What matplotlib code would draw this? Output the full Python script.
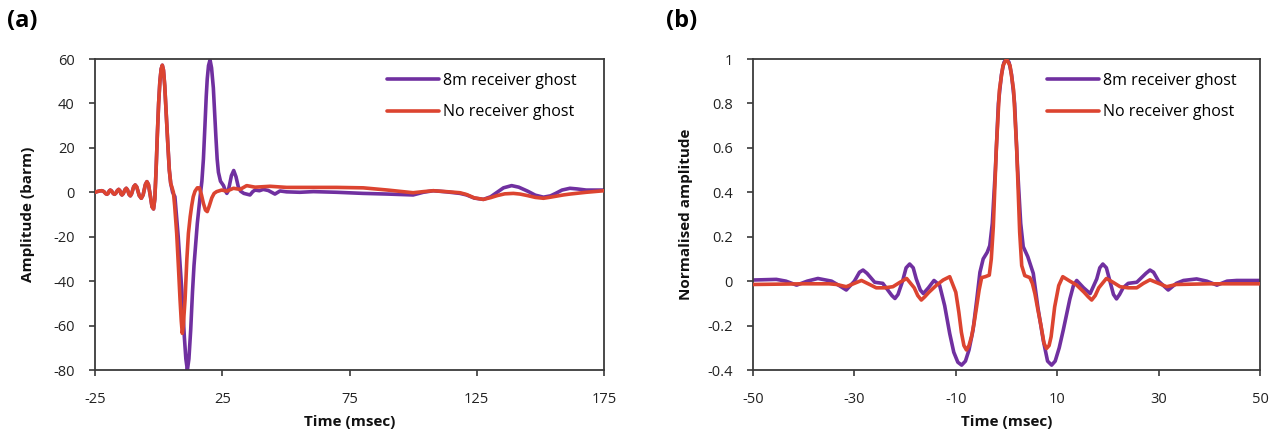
import matplotlib
matplotlib.use("Agg")
import matplotlib.pyplot as plt
from matplotlib.ticker import FuncFormatter

plt.rcParams['font.family'] = ['Open Sans', 'DejaVu Sans']
plt.rcParams['axes.unicode_minus'] = False

# ---------------- data: panel (a) ----------------
pre_t = [-25, -24.2, -23.0, -22.25, -21.5, -20.8, -20.3, -19.8, -19.4, -19.0, -18.5, -17.8,
         -17.3, -16.8, -16.2, -15.7, -15.2, -14.8, -14.4, -13.9, -13.2, -12.7, -12.2, -11.6,
         -11.1, -10.6, -9.8, -9.2, -8.6, -7.6, -6.8, -6.1, -5.2, -4.6, -4.0, -3.2, -2.6,
         -2.0, -1.5, -1.0, -0.5, 0, 0.5, 1.0, 1.45, 1.9, 2.4, 3.0, 3.6, 4.2, 4.75]
pre_v = [0.0, 0.3, 0.65, 0.7, 0.3, -0.6, -0.9, -0.4, 0.6, 1.0, 0.6, -0.6,
         -0.9, -0.4, 0.8, 1.3, 0.7, -0.7, -1.2, -0.6, 1.2, 1.8, 1.0, -1.0,
         -1.6, -0.6, 2.5, 3.3, 2.4, -1.5, -2.7, -1.2, 3.5, 4.8, 3.5, -2.0, -6.5,
         -7.5, -3.0, 10, 26, 40, 50, 55.5, 57.2, 55, 48, 35, 22, 10, 4]

a_red_t = pre_t + [5.3, 5.8, 6.3, 7.1, 7.8, 8.4, 8.9, 9.3, 9.7, 10.4, 11.1, 11.7, 12.4, 13.0,
                   13.6, 14.3, 15.2, 16.0, 16.8, 17.6, 18.4, 19.1, 19.8, 20.9, 21.8, 22.8,
                   24.8, 26.8, 29.4, 32.0, 34.6, 37.9, 43.8, 50.3, 60, 70, 80.4, 90, 100,
                   104, 107.9, 113, 118.4, 121, 124, 127.6, 130.5, 133, 136, 139.4, 142,
                   145, 148, 151.2, 154, 156, 159, 161.6, 168, 175]
a_red_v = pre_v + [2, 0, -6, -18.5, -34, -48, -58, -63.5, -60, -48, -30, -18.5, -11, -6,
                   -2, 0.5, 2, 2, -1, -5, -8, -8.7, -6.5, -2.5, -0.5, 0.3,
                   1, 0.5, 1.8, 1.3, 3.0, 2.3, 2.7, 2.2, 2.2, 2.2, 2.0, 1.0, -0.2,
                   0.3, 0.7, 0.3, -0.2, -1.0, -2.5, -3.2, -2.4, -1.5, -0.7, -0.5, -0.8,
                   -1.5, -2.3, -2.7, -2.2, -1.8, -1.2, -0.8, 0, 0.7]

a_pur_t = pre_t + [5.5, 6.4, 7.7, 9.1, 10.1, 10.7, 11.3, 11.9, 12.6, 13.3, 13.9, 15.2, 16.3,
                   17.0, 17.6, 18.2, 18.7, 19.1, 19.6, 20.2, 20.8, 21.5, 22.0, 22.5, 23.0,
                   23.5, 24.3, 25.5, 26.3, 26.8, 27.3, 27.8, 28.6, 29.5, 30.4, 31.3, 32.2,
                   33.5, 35.9, 37.0, 37.9, 39.6, 41.1, 43.1, 45.7, 47.7, 50.3, 55.5, 60.8,
                   70, 80.4, 90, 100, 104, 107.9, 113, 118.4, 121, 124, 127.6, 130.5, 133,
                   135.5, 138.7, 141.5, 145, 148, 151.2, 154, 156, 158.5, 161.6, 164.5,
                   168, 175]
a_pur_v = pre_v + [0, -2, -20, -44, -65, -75, -80, -75, -62, -45, -33, -14, -2,
                   5, 15, 30, 43, 51, 57, 59.6, 56, 47, 36, 25, 15,
                   9, 5, 3, 0.5, -0.5, 0.5, 3, 7.5, 9.8, 7, 2.5, 0.5,
                   -0.5, -1.2, 0.3, 1, 0.7, 1.3, 0.8, -0.8, 0.6, 0.2, 0.0, 0.3,
                   0, -0.5, -0.8, -1.2, 0, 0.7, 0.2, -0.5, -1.2, -2.6, -3.2, -2, 0,
                   2.0, 3.0, 2.3, 0.5, -1.3, -2.2, -1.6, -0.5, 1.0, 1.8, 1.5,
                   1.0, 1.0]

# ---------------- data: panel (b) ----------------
b_pur_t = [-50, -45.4, -43.5, -41.4, -39.3, -37.2, -34.5, -33, -31.6, -30, -29.0, -28.3,
           -27.5, -26.0, -24.4, -22.6, -22.0, -21.4, -20.5, -19.8, -19.1, -18.4, -17.8,
           -17.0, -16.4, -15.4, -14.3, -13.2, -12.2, -11.2, -10.4, -9.6, -8.85, -8.1,
           -7.4, -6.6, -5.9, -5.24, -4.6, -3.8, -3.3, -2.8, -2.2, -1.6, -1.0, -0.5, 0,
           0.5, 1.0, 1.6, 2.2, 2.8, 3.3, 4.2, 5.28, 6.2, 7.25, 8.1, 8.9, 9.6, 10.4, 11.2,
           12.5, 13.2, 13.85, 15.2, 16.5, 17.8, 18.4, 19.0, 19.7, 20.4, 21.1, 21.7, 22.3,
           23, 24.0, 25.7, 27.5, 28.3, 29.0, 30, 31.9, 33.5, 34.9, 37.5, 39.5, 41.5, 43.5,
           45.4, 50]
b_pur_v = [0.005, 0.008, 0, -0.018, 0, 0.012, 0.0, -0.02, -0.04, 0.0, 0.04, 0.05,
           0.035, -0.005, -0.01, -0.065, -0.078, -0.06, 0, 0.06, 0.077, 0.06, 0.01,
           -0.04, -0.056, -0.03, 0.003, -0.018, -0.11, -0.236, -0.32, -0.365, -0.378, -0.36,
           -0.31, -0.22, -0.09, 0.04, 0.1, 0.13, 0.16, 0.26, 0.5, 0.8, 0.93, 0.985, 1.0,
           0.985, 0.93, 0.8, 0.5, 0.26, 0.155, 0.11, 0.035, -0.12, -0.266, -0.36, -0.378, -0.36, -0.3, -0.22,
           -0.08, -0.02, 0.003, -0.03, -0.056, 0.01, 0.06, 0.077, 0.06, 0, -0.06, -0.08, -0.06,
           -0.03, -0.01, -0.005, 0.035, 0.05, 0.04, 0.0, -0.04, -0.01, 0.003, 0.01, 0.0, -0.018, 0,
           0.003, 0.003]

b_red_t = [-50, -40, -35, -33.5, -31.6, -30, -28.6, -27, -25.7, -24, -22.4, -21, -19.7,
           -18.2, -17.5, -16.8, -16.1, -15.3, -13.8, -12.5, -11.2, -10.0, -9.4, -8.9, -8.4,
           -7.9, -7.4, -6.9, -6.4, -5.9, -5.4, -4.9, -4.2, -3.4, -3.0, -2.6, -2.0, -1.4,
           -0.7, 0, 0.7, 1.4, 2.0, 2.6, 3.0, 3.6, 4.6, 5.1, 5.6, 6.2, 6.8, 7.4, 7.9, 8.4,
           8.8, 9.5, 10.3, 11.1, 12.5, 13.85, 15.3, 16.1, 16.8, 17.5, 18.2, 19.7, 21, 22.4,
           24, 25.7, 27, 28.3, 30, 31.6, 33.5, 40, 50]
b_red_v = [-0.015, -0.012, -0.012, -0.015, -0.025, -0.01, 0.003, -0.015, -0.03, -0.03, -0.025, -0.005, 0.012,
           -0.03, -0.065, -0.085, -0.07, -0.05, -0.018, 0.005, 0.02, -0.05, -0.14, -0.23, -0.29,
           -0.31, -0.29, -0.25, -0.19, -0.116, -0.04, 0.016, 0.02, 0.027, 0.1, 0.245, 0.6, 0.86,
           0.97, 1.0, 0.97, 0.86, 0.6, 0.22, 0.07, 0.025, 0.016, -0.01, -0.056, -0.13, -0.2, -0.28, -0.303, -0.29,
           -0.25, -0.116, -0.02, 0.02, 0.0, -0.018, -0.05, -0.07, -0.085, -0.065, -0.03, 0.012, -0.005, -0.025,
           -0.03, -0.03, -0.01, 0.006, -0.01, -0.025, -0.015, -0.012, -0.012]

a_xticks = [-25, 25, 75, 125, 175]
a_yticks = [-80, -60, -40, -20, 0, 20, 40, 60]
b_xticks = [-50, -30, -10, 10, 30, 50]
b_yticks = [-0.4, -0.2, 0, 0.2, 0.4, 0.6, 0.8, 1]

labels = ["8m receiver ghost", "No receiver ghost"]
PURPLE = '#7030A0'
RED = '#DC4430'
SPINE = '#3a3a3a'

fig = plt.figure(figsize=(12.77, 4.40), dpi=100)
W, H = 1277, 440
ax1 = fig.add_axes([95 / W, 1 - 370 / H, 509 / W, 311 / H])
ax2 = fig.add_axes([753 / W, 1 - 370 / H, 507 / W, 311 / H])

fmt = FuncFormatter(lambda v, p: f"{v:g}")

def style(ax, xt, yt, xl, yl, ylab, ylx):
    ax.set_xlim(*xl)
    ax.set_ylim(*yl)
    ax.set_xticks(xt)
    ax.set_yticks(yt)
    ax.yaxis.set_major_formatter(fmt)
    for s in ax.spines.values():
        s.set_color(SPINE)
        s.set_linewidth(1.3)
    ax.tick_params(axis='both', direction='out', length=4.5, width=1.2, color=SPINE,
                   labelsize=10.5, labelcolor='#222222')
    ax.tick_params(axis='x', pad=11)
    ax.tick_params(axis='y', pad=10)
    ax.set_xlabel("Time (msec)", fontsize=11, fontweight='bold', color='#111111')
    ax.set_ylabel(ylab, fontsize=11, fontweight='bold', color='#111111')
    ax.xaxis.set_label_coords(0.5, -0.145)
    ax.yaxis.set_label_coords(ylx, 0.5)

kw = dict(lw=2.6, solid_joinstyle='round', solid_capstyle='round')
ax1.plot(a_pur_t, a_pur_v, color=PURPLE, label=labels[0], zorder=2, **kw)
ax1.plot(a_red_t, a_red_v, color=RED, label=labels[1], zorder=3, **kw)
style(ax1, a_xticks, a_yticks, (-25, 175), (-80, 60), "Amplitude (barm)", -0.118)

ax2.plot(b_pur_t, b_pur_v, color=PURPLE, label=labels[0], zorder=2, **kw)
ax2.plot(b_red_t, b_red_v, color=RED, label=labels[1], zorder=3, **kw)
style(ax2, b_xticks, b_yticks, (-50, 50), (-0.4, 1), "Normalised amplitude", -0.118)

for ax, bx in ((ax1, (386.7 - 95) / 509), (ax2, (1046.7 - 753) / 507)):
    ax.legend(loc='upper left', bbox_to_anchor=(bx, 0.955), frameon=False, fontsize=11.5,
              handlelength=3.25, handletextpad=0.3, labelspacing=0.95, borderpad=0,
              borderaxespad=0)

fig.text(7 / W, 1 - 21 / H, "(a)", fontsize=17, fontweight='bold', va='center', ha='left')
fig.text(666 / W, 1 - 21 / H, "(b)", fontsize=17, fontweight='bold', va='center', ha='left')

fig.savefig("out.png", dpi=100)
